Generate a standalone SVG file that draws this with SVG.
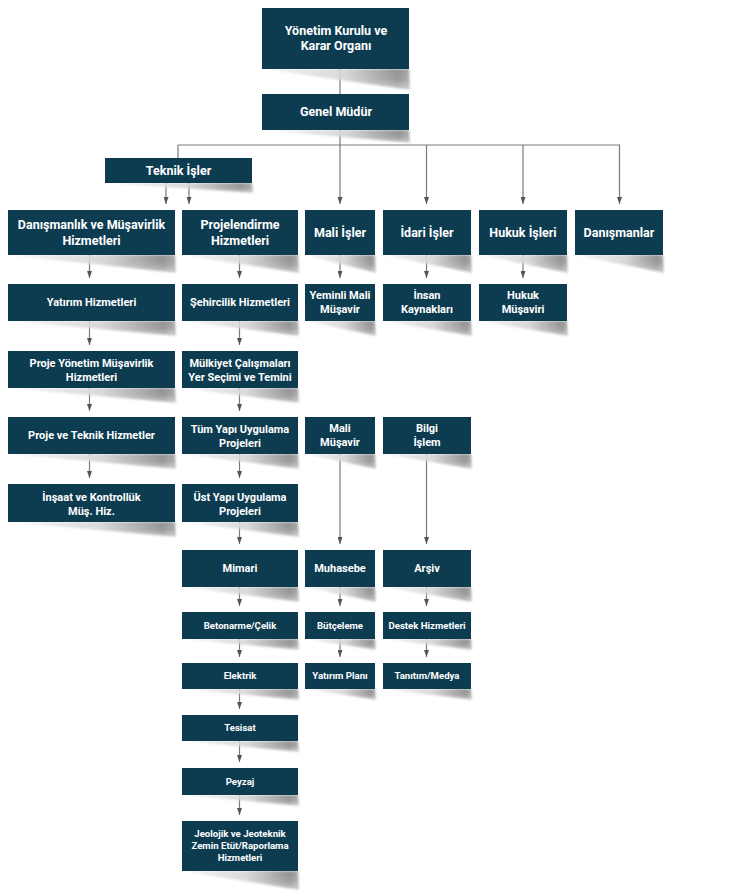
<svg xmlns="http://www.w3.org/2000/svg" width="741" height="892" viewBox="0 0 741 892">
<style>
.box{fill:#0d3c51}
.sh{fill:url(#shg);filter:url(#blur);mask:url(#shm)}
.t{font-family:Roboto,"Liberation Sans",sans-serif;font-weight:bold;fill:#ffffff;text-anchor:middle}
.l{font-size:12.5px}
.m{font-size:11px}
.s{font-size:9.6px}
.c{stroke:#7a7a7a;stroke-width:1.2;fill:none}
.a{marker-end:url(#arr)}
</style>
<defs>
<linearGradient id="shg" x1="0" y1="0" x2="1" y2="0">
<stop offset="0" stop-color="#f6f6f6"/>
<stop offset="0.55" stop-color="#d6d6d6"/>
<stop offset="0.92" stop-color="#8c8c8c"/>
<stop offset="1" stop-color="#a6a6a6"/>
</linearGradient>
<linearGradient id="shv" x1="0" y1="0" x2="0" y2="1">
<stop offset="0" stop-color="#fff"/>
<stop offset="0.5" stop-color="#ddd"/>
<stop offset="1" stop-color="#555"/>
</linearGradient>
<mask id="shm" maskContentUnits="objectBoundingBox" x="-0.1" y="-0.2" width="1.2" height="1.4"><rect x="-0.1" y="-0.2" width="1.2" height="1.4" fill="url(#shv)"/></mask>
<filter id="blur" x="-5%" y="-20%" width="110%" height="140%"><feGaussianBlur stdDeviation="1.1"/></filter>
<marker id="arr" viewBox="0 0 7 5" refX="7" refY="2.5" markerWidth="7" markerHeight="5" markerUnits="userSpaceOnUse" orient="auto"><path d="M0,0 L7,2.5 L0,5 z" fill="#555"/></marker>
</defs>
<rect width="741" height="892" fill="#ffffff"/>

<g id="connectors">
<path class="c" d="M340,69 V94"/>
<path class="c a" d="M340,130 V204"/>
<path class="c" d="M178,145 H620 M178,145 V158"/>
<path class="c a" d="M426.5,145 V204"/>
<path class="c a" d="M523,145 V204"/>
<path class="c a" d="M619.5,145 V204"/>
<path class="c a" d="M166,183 V204"/>
<path class="c a" d="M189,183 V204"/>
<path class="c a" d="M89.5,255 V278"/>
<path class="c a" d="M89.5,321 V345"/>
<path class="c a" d="M89.5,388 V411"/>
<path class="c a" d="M89.5,454 V478"/>
<path class="c a" d="M239.5,255 V278"/>
<path class="c a" d="M239.5,321 V345"/>
<path class="c a" d="M239.5,388 V411"/>
<path class="c a" d="M239.5,454 V478"/>
<path class="c a" d="M239.5,522 V544"/>
<path class="c a" d="M239.5,587 V606"/>
<path class="c a" d="M239.5,639 V657"/>
<path class="c a" d="M239.5,689 V709"/>
<path class="c a" d="M239.5,741 V762"/>
<path class="c a" d="M239.5,795 V815"/>
<path class="c a" d="M340,255 V278"/>
<path class="c a" d="M340,454 V544"/>
<path class="c a" d="M340,587 V606"/>
<path class="c a" d="M340,639 V657"/>
<path class="c a" d="M426.5,255 V278"/>
<path class="c a" d="M426.5,454 V544"/>
<path class="c a" d="M426.5,587 V606"/>
<path class="c a" d="M426.5,639 V657"/>
<path class="c a" d="M523,255 V278"/>
</g>

<g id="n-yonetim"><polygon class="sh" points="262,69 409,69 410,90"/><rect class="box" x="262" y="8" width="147" height="61"/><text class="t l" x="336" y="35">Yönetim Kurulu ve</text><text class="t l" x="336" y="50">Karar Organı</text></g>
<g id="n-genel"><polygon class="sh" points="262,130 409,130 410,143"/><rect class="box" x="262" y="94" width="147" height="36"/><text class="t l" x="336" y="116">Genel Müdür</text></g>
<g id="n-teknik"><polygon class="sh" points="105,183 252,183 253,193"/><rect class="box" x="105" y="158" width="147" height="25"/><text class="t l" x="178.5" y="175">Teknik İşler</text></g>

<g id="n-danismanlik"><polygon class="sh" points="8,255 175,255 176,273"/><rect class="box" x="8" y="210" width="167" height="45"/><text class="t l" x="91.5" y="229">Danışmanlık ve Müşavirlik</text><text class="t l" x="91.5" y="245">Hizmetleri</text></g>
<g id="n-projelendirme"><polygon class="sh" points="182,255 298,255 299,273"/><rect class="box" x="182" y="210" width="116" height="45"/><text class="t l" x="240" y="229">Projelendirme</text><text class="t l" x="240" y="245">Hizmetleri</text></g>
<g id="n-mali"><polygon class="sh" points="305,255 375,255 376,273"/><rect class="box" x="305" y="210" width="70" height="45"/><text class="t l" x="340" y="237">Mali İşler</text></g>
<g id="n-idari"><polygon class="sh" points="383,255 471,255 472,273"/><rect class="box" x="383" y="210" width="88" height="45"/><text class="t l" x="427" y="237">İdari İşler</text></g>
<g id="n-hukuk"><polygon class="sh" points="479,255 567,255 568,273"/><rect class="box" x="479" y="210" width="88" height="45"/><text class="t l" x="523" y="237">Hukuk İşleri</text></g>
<g id="n-danismanlar"><polygon class="sh" points="575,255 663,255 664,273"/><rect class="box" x="575" y="210" width="88" height="45"/><text class="t l" x="619" y="237">Danışmanlar</text></g>

<g id="n-yatirim"><polygon class="sh" points="8,321 175,321 176,336"/><rect class="box" x="8" y="284" width="167" height="37"/><text class="t m" x="91.5" y="306">Yatırım Hizmetleri</text></g>
<g id="n-sehircilik"><polygon class="sh" points="182,321 298,321 299,336"/><rect class="box" x="182" y="284" width="116" height="37"/><text class="t m" x="240" y="306">Şehircilik Hizmetleri</text></g>
<g id="n-yeminli"><polygon class="sh" points="305,321 375,321 376,336"/><rect class="box" x="305" y="284" width="70" height="37"/><text class="t m" x="340" y="299">Yeminli Mali</text><text class="t m" x="340" y="313">Müşavir</text></g>
<g id="n-insan"><polygon class="sh" points="383,321 471,321 472,336"/><rect class="box" x="383" y="284" width="88" height="37"/><text class="t m" x="427" y="299">İnsan</text><text class="t m" x="427" y="313">Kaynakları</text></g>
<g id="n-hukukmusaviri"><polygon class="sh" points="479,321 567,321 568,336"/><rect class="box" x="479" y="284" width="88" height="37"/><text class="t m" x="523" y="299">Hukuk</text><text class="t m" x="523" y="313">Müşaviri</text></g>

<g id="n-projeyonetim"><polygon class="sh" points="8,388 175,388 176,403"/><rect class="box" x="8" y="351" width="167" height="37"/><text class="t m" x="91.5" y="366.5">Proje Yönetim Müşavirlik</text><text class="t m" x="91.5" y="380.5">Hizmetleri</text></g>
<g id="n-mulkiyet"><polygon class="sh" points="182,388 298,388 299,403"/><rect class="box" x="182" y="351" width="116" height="37"/><text class="t m" x="240" y="366.5">Mülkiyet Çalışmaları</text><text class="t m" x="240" y="380.5">Yer Seçimi ve Temini</text></g>

<g id="n-projeteknik"><polygon class="sh" points="8,454 175,454 176,469"/><rect class="box" x="8" y="417" width="167" height="37"/><text class="t m" x="91.5" y="439">Proje ve Teknik Hizmetler</text></g>
<g id="n-tumyapi"><polygon class="sh" points="182,454 298,454 299,469"/><rect class="box" x="182" y="417" width="116" height="37"/><text class="t m" x="240" y="433">Tüm Yapı Uygulama</text><text class="t m" x="240" y="447">Projeleri</text></g>
<g id="n-malimusavir"><polygon class="sh" points="305,454 375,454 376,469"/><rect class="box" x="305" y="417" width="70" height="37"/><text class="t m" x="340" y="432">Mali</text><text class="t m" x="340" y="446">Müşavir</text></g>
<g id="n-bilgi"><polygon class="sh" points="383,454 471,454 472,469"/><rect class="box" x="383" y="417" width="88" height="37"/><text class="t m" x="427" y="432">Bilgi</text><text class="t m" x="427" y="446">İşlem</text></g>

<g id="n-insaat"><polygon class="sh" points="8,522 175,522 176,537"/><rect class="box" x="8" y="484" width="167" height="38"/><text class="t m" x="91.5" y="501">İnşaat ve Kontrollük</text><text class="t m" x="91.5" y="515">Müş. Hiz.</text></g>
<g id="n-ustyapi"><polygon class="sh" points="182,522 298,522 299,537"/><rect class="box" x="182" y="484" width="116" height="38"/><text class="t m" x="240" y="501">Üst Yapı Uygulama</text><text class="t m" x="240" y="515">Projeleri</text></g>

<g id="n-mimari"><polygon class="sh" points="182,587 298,587 299,602"/><rect class="box" x="182" y="550" width="116" height="37"/><text class="t m" x="240" y="572">Mimari</text></g>
<g id="n-muhasebe"><polygon class="sh" points="305,587 375,587 376,602"/><rect class="box" x="305" y="550" width="70" height="37"/><text class="t m" x="340" y="572">Muhasebe</text></g>
<g id="n-arsiv"><polygon class="sh" points="383,587 471,587 472,602"/><rect class="box" x="383" y="550" width="88" height="37"/><text class="t m" x="427" y="572">Arşiv</text></g>

<g id="n-betonarme"><polygon class="sh" points="182,639 298,639 299,650"/><rect class="box" x="182" y="612" width="116" height="27"/><text class="t s" x="240" y="628.5">Betonarme/Çelik</text></g>
<g id="n-butceleme"><polygon class="sh" points="305,639 375,639 376,650"/><rect class="box" x="305" y="612" width="70" height="27"/><text class="t s" x="340" y="628.5">Bütçeleme</text></g>
<g id="n-destek"><polygon class="sh" points="383,639 471,639 472,650"/><rect class="box" x="383" y="612" width="88" height="27"/><text class="t s" x="427" y="628.5">Destek Hizmetleri</text></g>

<g id="n-elektrik"><polygon class="sh" points="182,689 298,689 299,700"/><rect class="box" x="182" y="663" width="116" height="26"/><text class="t s" x="240" y="679">Elektrik</text></g>
<g id="n-yatirimplani"><polygon class="sh" points="305,689 375,689 376,700"/><rect class="box" x="305" y="663" width="70" height="26"/><text class="t s" x="340" y="679">Yatırım Planı</text></g>
<g id="n-tanitim"><polygon class="sh" points="383,689 471,689 472,700"/><rect class="box" x="383" y="663" width="88" height="26"/><text class="t s" x="427" y="679">Tanıtım/Medya</text></g>

<g id="n-tesisat"><polygon class="sh" points="182,741 298,741 299,752"/><rect class="box" x="182" y="715" width="116" height="26"/><text class="t s" x="240" y="731">Tesisat</text></g>
<g id="n-peyzaj"><polygon class="sh" points="182,795 298,795 299,806"/><rect class="box" x="182" y="768" width="116" height="27"/><text class="t s" x="240" y="784.5">Peyzaj</text></g>
<g id="n-jeolojik"><polygon class="sh" points="182,871 298,871 299,890"/><rect class="box" x="182" y="821" width="116" height="50"/><text class="t s" x="240" y="836.5">Jeolojik ve Jeoteknik</text><text class="t s" x="240" y="848.7">Zemin Etüt/Raporlama</text><text class="t s" x="240" y="861">Hizmetleri</text></g>
</svg>
